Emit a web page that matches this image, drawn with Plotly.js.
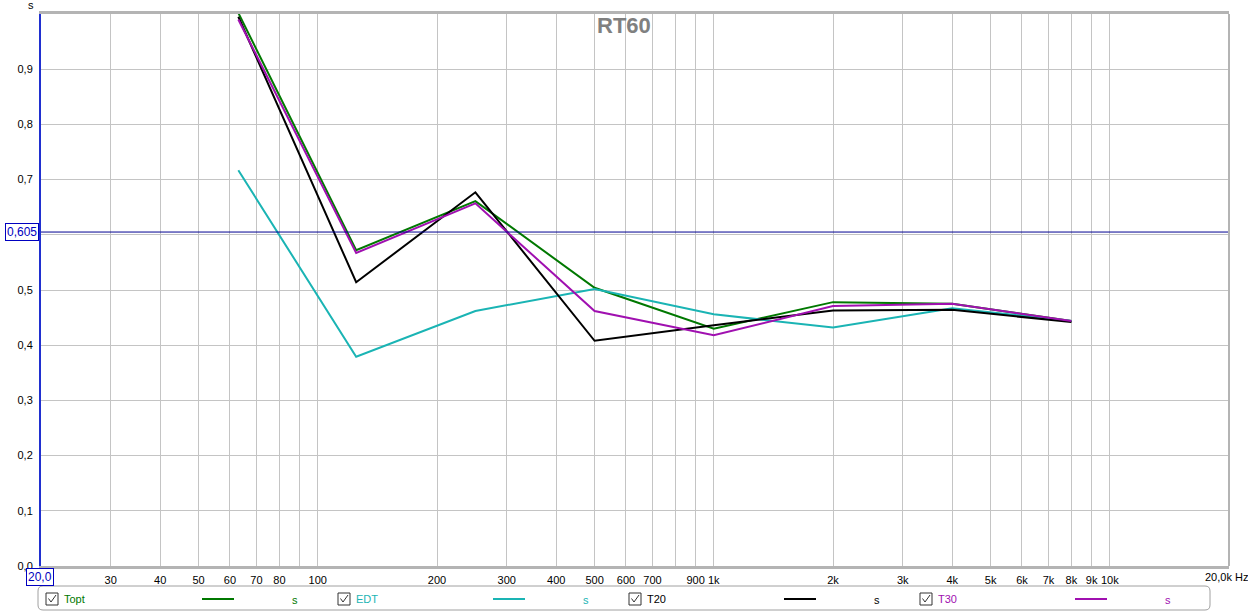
<!DOCTYPE html>
<html>
<head>
<meta charset="utf-8">
<script src="https://cdn.plot.ly/plotly-3.0.1.min.js"></script>
<style>html,body{margin:0;padding:0;background:#fff;}#chart{width:1248px;height:613px;}</style>
</head>
<body>
<div id="chart"></div>
<script>
// ---- data ----
var freqs = [63, 125, 250, 500, 1000, 2000, 4000, 8000];
var topt = [1.002, 0.572, 0.661, 0.504, 0.430, 0.478, 0.475, 0.444];
var edt  = [0.717, 0.379, 0.462, 0.502, 0.456, 0.432, 0.467, 0.444];
var t20  = [0.995, 0.514, 0.677, 0.408, 0.436, 0.463, 0.464, 0.442];
var t30  = [0.990, 0.567, 0.657, 0.462, 0.418, 0.471, 0.475, 0.444];
var seriesNames = ['Topt', 'EDT', 'T20', 'T30'];
var seriesColors = ['#007800', '#1ab4b4', '#000000', '#a010b0'];
var xTickVals = [20,30,40,50,60,70,80,90,100,200,300,400,500,600,700,800,900,1000,2000,3000,4000,5000,6000,7000,8000,9000,10000,20000];
var xTickText = ['','30','40','50','60','70','80','','100','200','300','400','500','600','700','','900','1k','2k','3k','4k','5k','6k','7k','8k','9k','10k',''];
var yTickVals = [0,0.1,0.2,0.3,0.4,0.5,0.6,0.7,0.8,0.9];
var yTickText = ['0,0','0,1','0,2','0,3','0,4','0,5','','0,7','0,8','0,9'];
var cursorValue = 0.605;
var cursorLabel = '0,605';
var xStartLabel = '20,0';
var xEndLabel = '20,0k Hz';
var yUnit = 's';
var titleText = 'RT60';

// ---- layout helpers (pixel -> paper) ----
var W = 1248, H = 613, L = 41, R = 19, T = 14, B = 47;
var pw = W - L - R, ph = H - T - B;
function px(x){ return (x - L) / pw; }
function py(y){ return (H - B - y) / ph; }

var allY = [topt, edt, t20, t30];
var traces = allY.map(function(vals, i){
  return {x: freqs, y: vals, type: 'scatter', mode: 'lines', name: seriesNames[i],
          line: {color: seriesColors[i], width: 2}, hoverinfo: 'x+y'};
});

var font = {family: '"Liberation Sans", Arial, sans-serif', size: 11, color: '#000'};
var shapes = [
  {type:'line', xref:'paper', yref:'y', x0:0, x1:1, y0:cursorValue, y1:cursorValue, line:{color:'#000090', width:1}},
  {type:'line', xref:'paper', yref:'paper', x0:1, x1:1, y0:0, y1:1, line:{color:'#b4b4b4', width:2}},
  // legend box (rounded)
  (function(){
    var x0=px(38), x1=px(1210), y0=py(586), y1=py(610), rx=5/pw, ry=5/ph;
    return {type:'path', xref:'paper', yref:'paper', line:{color:'#a0a0a0', width:1},
      path:'M'+(x0+rx)+','+y0+' L'+(x1-rx)+','+y0+' Q'+x1+','+y0+' '+x1+','+(y0-ry)+
           ' L'+x1+','+(y1+ry)+' Q'+x1+','+y1+' '+(x1-rx)+','+y1+
           ' L'+(x0+rx)+','+y1+' Q'+x0+','+y1+' '+x0+','+(y1+ry)+
           ' L'+x0+','+(y0-ry)+' Q'+x0+','+y0+' '+(x0+rx)+','+y0+' Z'};
  })()
];
var boxFont = {family:font.family, size:12, color:'#0000c0'};
var annotations = [
  {text:'<b>'+titleText+'</b>', xref:'paper', yref:'paper', x:px(624), y:py(26), xanchor:'center', yanchor:'middle', showarrow:false,
   font:{family:'"Liberation Sans", Arial, sans-serif', size:22, color:'#808080'}},
  {text:yUnit, xref:'paper', yref:'paper', x:px(31), y:py(5), xanchor:'center', yanchor:'middle', showarrow:false, font:font},
  {text:cursorLabel, xref:'paper', yref:'y', x:px(22), y:cursorValue, xanchor:'center', yanchor:'middle', showarrow:false,
   font:boxFont, bordercolor:'#0000c0', borderwidth:1, borderpad:1, bgcolor:'#fff'},
  {text:xStartLabel, xref:'paper', yref:'paper', x:px(40), y:py(577), xanchor:'center', yanchor:'middle', showarrow:false,
   font:boxFont, bordercolor:'#0000c0', borderwidth:1, borderpad:1, bgcolor:'#fff'},
  {text:xEndLabel, xref:'paper', yref:'paper', x:px(1203), y:py(577), xanchor:'left', yanchor:'middle', showarrow:false, font:font}
];
// legend entries
var cbX = [46, 338, 629, 920], lineX = [202, 493, 784, 1075], sX = [295, 586, 877, 1168];
for (var i = 0; i < 4; i++) {
  var cy = 599;
  shapes.push({type:'rect', xref:'paper', yref:'paper', x0:px(cbX[i]), x1:px(cbX[i]+12), y0:py(593), y1:py(605), line:{color:'#333', width:1}, fillcolor:'#fff'});
  shapes.push({type:'path', xref:'paper', yref:'paper', line:{color:'#333', width:1},
    path:'M'+px(cbX[i]+2.5)+','+py(598.5)+' L'+px(cbX[i]+5)+','+py(602)+' L'+px(cbX[i]+10)+','+py(595)});
  shapes.push({type:'line', xref:'paper', yref:'paper', x0:px(lineX[i]), x1:px(lineX[i]+32), y0:py(cy), y1:py(cy), line:{color:seriesColors[i], width:2}});
  annotations.push({text:seriesNames[i], xref:'paper', yref:'paper', x:px(cbX[i]+16), y:py(cy), xanchor:'left', yanchor:'middle', showarrow:false,
    font:{family:font.family, size:11, color:seriesColors[i]}});
  annotations.push({text:yUnit, xref:'paper', yref:'paper', x:px(sX[i]), y:py(cy+1), xanchor:'center', yanchor:'middle', showarrow:false,
    font:{family:font.family, size:11, color:seriesColors[i]}});
}

var layout = {
  width: W, height: H,
  margin: {l: L, r: R, t: T, b: B, pad: 0},
  paper_bgcolor: '#fff', plot_bgcolor: '#fff',
  showlegend: false,
  font: font,
  xaxis: {type:'log', range:[Math.log10(20), Math.log10(20000)], tickvals:xTickVals, ticktext:xTickText,
          showgrid:true, gridcolor:'#c4c4c4', gridwidth:1, zeroline:false, ticks:'', ticklabelstandoff:2,
          showline:true, linecolor:'#b4b4b4', linewidth:3, mirror:true, tickfont:font, fixedrange:true},
  yaxis: {range:[0, 1.0], tickvals:yTickVals, ticktext:yTickText, showgrid:true, gridcolor:'#c4c4c4', gridwidth:1,
          zeroline:false, ticks:'', ticklabelstandoff:4, showline:true, linecolor:'#2030d0', linewidth:2, mirror:false,
          tickfont:font, fixedrange:true},
  shapes: shapes,
  annotations: annotations
};
Plotly.newPlot('chart', traces, layout, {displayModeBar:false, staticPlot:true});
</script>
</body>
</html>
